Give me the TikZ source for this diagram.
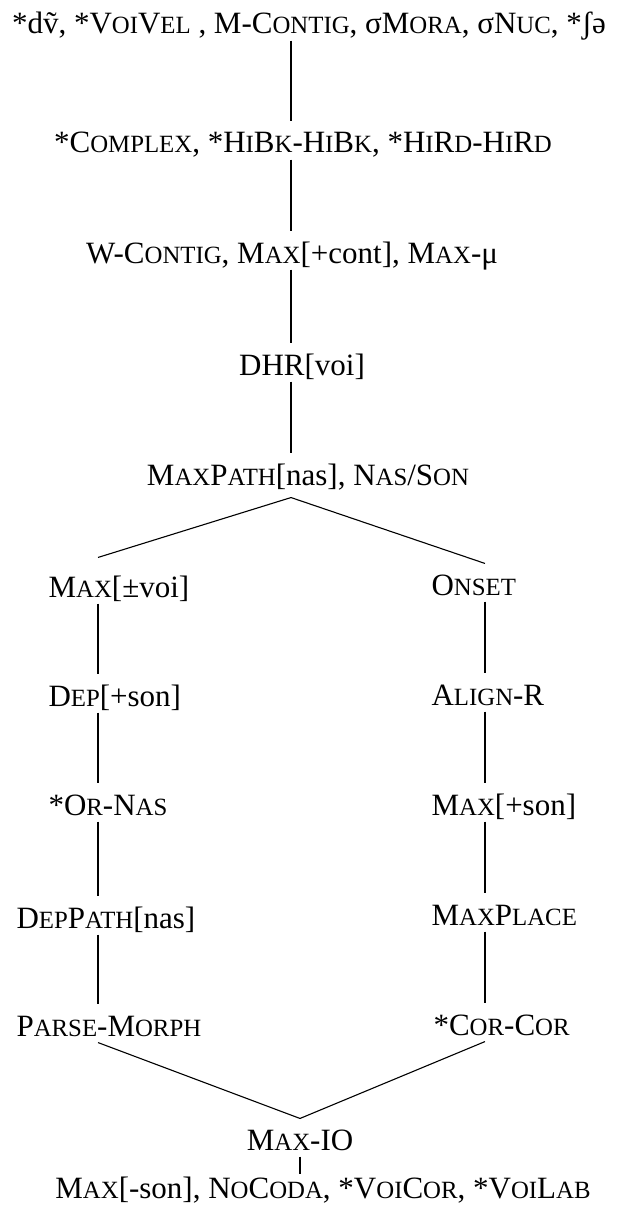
\documentclass[tikz,border=0pt]{standalone}
\usepackage{fontspec}
\setmainfont{Liberation Serif}
\usetikzlibrary{positioning}

% fake small caps, as in the source
\newcommand{\sm}[1]{{\fontsize{24.8}{24.8}\selectfont #1}}
\tikzset{
  con/.style={font=\fontsize{31}{36}\selectfont, inner xsep=0pt, inner ysep=6pt,
    text height=25pt, text depth=0pt, anchor=base},
  conl/.style={con, anchor=base west}
}

\begin{document}
\begin{tikzpicture}[x=1pt, y=-1pt, line width=1.1pt]
\path[use as bounding box] (0,0) rectangle (618,1206);
\coordinate (spine) at (291,0);
\coordinate (lcol) at (98,0);
\coordinate (rcol) at (485,0);

\node[con] (top) at (309,34) {*dṽ, *V\sm{OI}V\sm{EL} , M-C\sm{ONTIG}, σM\sm{ORA}, σN\sm{UC}, *ʃə};
\node[con] (cplx) at (303,153) {*C\sm{OMPLEX}, *H\sm{I}B\sm{K}-H\sm{I}B\sm{K}, *H\sm{I}R\sm{D}-H\sm{I}R\sm{D}};
\node[con] (wcon) at (292,263) {W-C\sm{ONTIG}, M\sm{AX}[+cont], M\sm{AX}-μ};
\node[con] (dhr) at (302,375) {DHR[voi]};
\node[con] (mpath) at (308,485) {M\sm{AX}P\sm{ATH}[nas], N\sm{AS}/S\sm{ON}};

\node[conl] (maxvoi) at (48,597) {M\sm{AX}[±voi]};
\node[conl] (depson) at (48,706) {D\sm{EP}[+son]};
\node[conl] (ornas) at (48,815) {*O\sm{R}-N\sm{AS}};
\node[conl] (deppath) at (16,928) {D\sm{EP}P\sm{ATH}[nas]};
\node[conl] (parse) at (16,1036) {P\sm{ARSE}-M\sm{ORPH}};

\node[conl] (onset) at (431,595) {O\sm{NSET}};
\node[conl] (align) at (431,705) {A\sm{LIGN}-R};
\node[conl] (maxson) at (431,815) {M\sm{AX}[+son]};
\node[conl] (place) at (431,925) {M\sm{AX}P\sm{LACE}};
\node[conl] (corcor) at (433,1035) {*C\sm{OR}-C\sm{OR}};

\node[con] (maxio) at (300,1150) {M\sm{AX}-IO};
\node[con] (last) at (323,1198) {M\sm{AX}[-son], N\sm{O}C\sm{ODA}, *V\sm{OI}C\sm{OR}, *V\sm{OI}L\sm{AB}};

\draw (top.south -| spine) -- (cplx.north -| spine);
\draw (cplx.south -| spine) -- (wcon.north -| spine);
\draw (wcon.south -| spine) -- (dhr.north -| spine);
\draw (dhr.south -| spine) -- (mpath.north -| spine);
\draw ([yshift=-6pt]mpath.south -| spine) -- ([yshift=8pt]maxvoi.north -| lcol);
\draw ([yshift=-6pt]mpath.south -| spine) -- (onset.north -| rcol);

\draw (maxvoi.south -| lcol) -- (depson.north -| lcol);
\draw (depson.south -| lcol) -- (ornas.north -| lcol);
\draw (ornas.south -| lcol) -- (deppath.north -| lcol);
\draw (deppath.south -| lcol) -- (parse.north -| lcol);

\draw (onset.south -| rcol) -- (align.north -| rcol);
\draw (align.south -| rcol) -- (maxson.north -| rcol);
\draw (maxson.south -| rcol) -- (place.north -| rcol);
\draw (place.south -| rcol) -- (corcor.north -| rcol);

\draw (parse.south -| lcol) -- (maxio.north);
\draw (corcor.south -| rcol) -- (maxio.north);
\draw (maxio.south) -- ([yshift=-8pt]maxio.south |- last.north);
\end{tikzpicture}
\end{document}
